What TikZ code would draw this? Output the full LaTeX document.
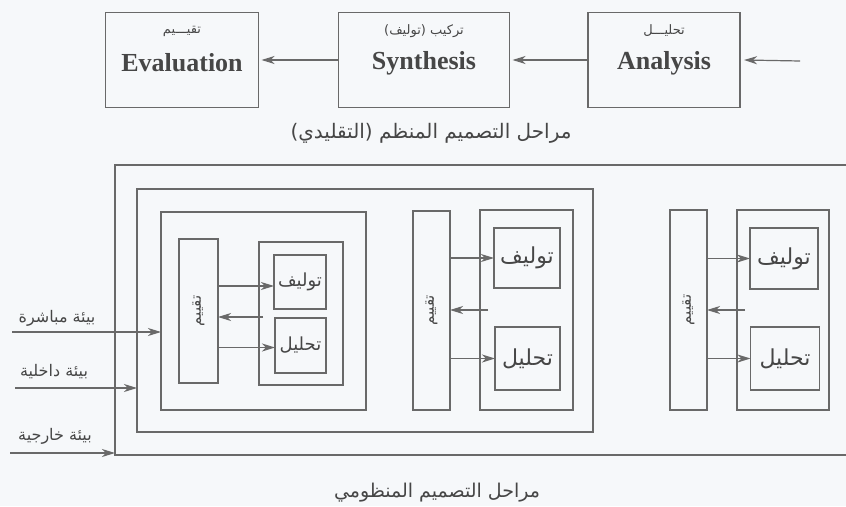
\documentclass[tikz,border=0pt]{standalone}
\usepackage{fontspec}
\usetikzlibrary{arrows.meta}
\setmainfont{Liberation Serif}
\newfontfamily\arabicfont[Script=Arabic]{DejaVu Sans}
\TeXXeTstate=1

\definecolor{paper}{RGB}{246,248,250}
\definecolor{linegray}{RGB}{105,105,105}
\definecolor{inkgray}{RGB}{70,70,70}

\tikzset{
  blk/.style={draw=linegray,line width=1.1pt,rectangle,inner sep=0pt,outer sep=0pt},
  arr/.style={draw=linegray,line width=1.2pt,-{Stealth[length=13pt,width=8pt,inset=4pt]}},
  en/.style={text=inkgray,font=\fontsize{26}{30}\selectfont\bfseries},
  ar/.style={text=inkgray,inner sep=1pt},
}

\begin{document}
\begin{tikzpicture}[x=1pt,y=-1pt]
\useasboundingbox[fill=paper] (0,0) rectangle (846,506);

% traditional stages
\node[blk,minimum width=153,minimum height=95] (eva) at (182,60) {};
\node[blk,minimum width=171,minimum height=95] (syn) at (424,60) {};
\node[blk,minimum width=152,minimum height=95] (ana) at (664,60) {};

\node[en] (evaE) at (182,63) {Evaluation};
\node[en] (synE) at (424,63) {Synthesis};
\node[en] (anaE) at (664,63) {Analysis};
\node[ar,font=\arabicfont\fontsize{13}{15}\selectfont] (evaA) at (182,31) {\beginR تقيـــيم\endR};
\node[ar,font=\arabicfont\fontsize{13}{15}\selectfont] (synA) at (424,31) {\beginR تركيب (توليف)\endR};
\node[ar,font=\arabicfont\fontsize{13}{15}\selectfont] (anaA) at (664,31) {\beginR تحليـــل\endR};

\coordinate (feed) at (800,61);
\draw[arr] (feed) -- ([xshift=4]ana.east);
\draw[arr] (ana.west) -- ([xshift=3]syn.east);
\draw[arr] (syn.west) -- ([xshift=3]eva.east);

\node[ar,font=\arabicfont\fontsize{20}{24}\selectfont] (capA) at (431,133) {\beginR مراحل التصميم المنظم (التقليدي)\endR};

% systemic stages
\node[blk,minimum width=745,minimum height=290] (sysbox) at (487.5,310) {};
\node[blk,minimum width=456,minimum height=243] (stage) at (365,310.5) {};
\node[blk,minimum width=205,minimum height=198] (cycle) at (263.5,311) {};

% first cycle
\node[blk,minimum width=39,minimum height=144] (nar1) at (198.5,311) {};
\node[blk,minimum width=84,minimum height=143] (rb1) at (301,313.5) {};
\node[blk,minimum width=52,minimum height=54] (syn1) at (300,282) {};
\node[blk,minimum width=51,minimum height=55] (ana1) at (300.5,345.5) {};
\node[ar,rotate=90,font=\arabicfont\fontsize{15}{17}\selectfont] (nar1t) at (nar1) {\beginR تقييم\endR};
\node[ar,font=\arabicfont\fontsize{18}{20}\selectfont] (syn1t) at (syn1) {\beginR توليف\endR};
\node[ar,font=\arabicfont\fontsize{18}{20}\selectfont] (ana1t) at (ana1) {\beginR تحليل\endR};
\draw[arr] ([yshift=-4]nar1.east |- syn1.west) -- ([yshift=-4]syn1.west);
\draw[arr] ([xshift=4,yshift=-3.5]rb1.west) -- ([yshift=-3.5]nar1.east |- rb1.west);
\draw[arr] ([yshift=-2]nar1.east |- ana1.west) -- ([yshift=-2]ana1.west);

% second cycle
\node[blk,minimum width=37,minimum height=199] (nar2) at (431.5,310.5) {};
\node[blk,minimum width=93,minimum height=200] (rb2) at (526.5,310) {};
\node[blk,minimum width=66,minimum height=60] (syn2) at (527,258) {};
\node[blk,minimum width=65,minimum height=63] (ana2) at (527.5,358.5) {};
\node[ar,rotate=90,font=\arabicfont\fontsize{15}{17}\selectfont] (nar2t) at (nar2) {\beginR تقييم\endR};
\node[ar,font=\arabicfont\fontsize{22}{24}\selectfont] (syn2t) at (syn2) {\beginR توليف\endR};
\node[ar,font=\arabicfont\fontsize{22}{24}\selectfont] (ana2t) at (ana2) {\beginR تحليل\endR};
\draw[arr] (nar2.east |- syn2.west) -- (syn2.west);
\draw[arr] ([xshift=8]rb2.west) -- (nar2.east |- rb2.west);
\draw[arr] (nar2.east |- ana2.west) -- (ana2.west);

% third cycle
\node[blk,minimum width=37,minimum height=200] (nar3) at (688.5,310) {};
\node[blk,minimum width=92,minimum height=200] (rb3) at (783,310) {};
\node[blk,minimum width=68,minimum height=61] (syn3) at (784,258.5) {};
\node[blk,minimum width=69,minimum height=63] (ana3) at (785,358.5) {};
\node[ar,rotate=90,font=\arabicfont\fontsize{15}{17}\selectfont] (nar3t) at (nar3) {\beginR تقييم\endR};
\node[ar,font=\arabicfont\fontsize{22}{24}\selectfont] (syn3t) at (syn3) {\beginR توليف\endR};
\node[ar,font=\arabicfont\fontsize{22}{24}\selectfont] (ana3t) at (ana3) {\beginR تحليل\endR};
\draw[arr] (nar3.east |- syn3.west) -- (syn3.west);
\draw[arr] ([xshift=8]rb3.west) -- (nar3.east |- rb3.west);
\draw[arr] (nar3.east |- ana3.west) -- (ana3.west);

% environments
\coordinate (in1) at (12,332);
\coordinate (in2) at (15,388);
\coordinate (in3) at (10,453);
\draw[arr] (in1) -- (in1 -| cycle.west);
\draw[arr] (in2) -- (in2 -| stage.west);
\draw[arr] (in3) -- (in3 -| sysbox.west);
\node[ar,font=\arabicfont\fontsize{16}{18}\selectfont] (in1t) at (57,318) {\beginR بيئة مباشرة\endR};
\node[ar,font=\arabicfont\fontsize{16}{18}\selectfont] (in2t) at (54,372) {\beginR بيئة داخلية\endR};
\node[ar,font=\arabicfont\fontsize{16}{18}\selectfont] (in3t) at (55,436) {\beginR بيئة خارجية\endR};

\node[ar,font=\arabicfont\fontsize{19}{22}\selectfont] (capB) at (437,493) {\beginR مراحل التصميم المنظومي\endR};
\end{tikzpicture}
\end{document}
